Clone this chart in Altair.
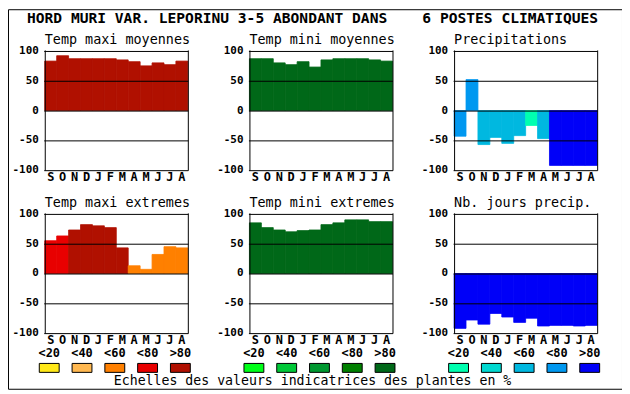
import altair as alt
import pandas as pd

# ---------------- data ----------------
months = ["S", "O", "N", "D", "J", "F", "M", "A", "M", "J", "J", "A"]

tmax_moy = [83, 92, 87, 87, 87, 87, 85, 82, 75, 80, 77, 83]
tmin_moy = [87, 87, 80, 77, 82, 73, 85, 87, 87, 87, 85, 83]
precip = [-43, 52, -57, -45, -55, -42, -25, -47, -92, -92, -92, -92]
tmax_ext = [55, 63, 73, 82, 80, 77, 43, 13, 7, 32, 45, 43]
tmin_ext = [85, 77, 73, 70, 72, 73, 82, 85, 90, 90, 87, 87]
nb_jours = [-92, -78, -85, -67, -73, -82, -75, -88, -87, -87, -88, -87]

cls_tmax_moy = [">80"] * 12
cls_tmin_moy = [">80"] * 12
cls_precip = ["<80", "<80", "<60", "<60", "<60", "<60", "<20", "<60", ">80", ">80", ">80", ">80"]
cls_tmax_ext = ["<80", "<80", ">80", ">80", ">80", ">80", ">80", "<60", "<60", "<60", "<60", "<60"]
cls_tmin_ext = [">80"] * 12
cls_nb_jours = [">80"] * 12

classes = ["<20", "<40", "<60", "<80", ">80"]
warm = ["#FFE818", "#FFB850", "#FF8000", "#E80000", "#B01000"]
green = ["#00FF18", "#00C838", "#009830", "#008000", "#006818"]
blue = ["#00FFB0", "#00D8D0", "#00B8E0", "#0098F0", "#0000F8"]

ticks = [100, 50, 0, -50, -100]

panel_titles = ["Temp maxi moyennes", "Temp mini moyennes", "Precipitations",
                "Temp maxi extremes", "Temp mini extremes", "Nb. jours precip."]
TITLE = "HORD MURI VAR. LEPORINU 3-5 ABONDANT DANS" + "\u00a0" * 4 + "6 POSTES CLIMATIQUES"
FOOT = "Echelles des valeurs indicatrices des plantes en %"

# ---------------- layout ----------------
FONT = "DejaVu Sans Mono"
W, H = 618, 382
col_left = [37, 243, 449]
row_top = [42, 206]
PW, PH = 144, 120


def panel(title, vals, cls, pal, col, row):
    L = col_left[col]
    T = row_top[row]
    xs = alt.Scale(domain=[0, 12], range=[L, L + PW], nice=False, zero=False)
    ys = alt.Scale(domain=[-100, 100], range=[T + PH, T], nice=False, zero=False)
    df = pd.DataFrame({"i": list(range(12)), "m": months, "v": vals,
                       "c": [pal[classes.index(k)] for k in cls]})
    df["i2"] = df["i"] + 1
    df["ic"] = df["i"] + 0.5
    tdf = pd.DataFrame({"t": ticks, "lab": [str(t) for t in ticks]})

    bars = alt.Chart(df).mark_rect(strokeWidth=0.8).encode(
        x=alt.X("i:Q", scale=xs, axis=None),
        x2="i2:Q",
        y=alt.Y("v:Q", scale=ys, axis=None),
        y2=alt.datum(0),
        color=alt.Color("c:N", scale=None),
        stroke=alt.Stroke("c:N", scale=None),
    )
    hr = alt.Chart(tdf).mark_rule(color="black", strokeWidth=1, yOffset=0.5, strokeCap="square").encode(
        y=alt.Y("t:Q", scale=ys, axis=None),
        x=alt.X(datum=0, type="quantitative", scale=xs, axis=None),
        x2=alt.datum(12),
    )
    vr = alt.Chart(pd.DataFrame({"e": [0, 12]})).mark_rule(
        color="black", strokeWidth=1, xOffset=0.5, strokeCap="square").encode(
        x=alt.X("e:Q", scale=xs, axis=None),
        y=alt.Y(datum=-100, type="quantitative", scale=ys, axis=None),
        y2=alt.datum(100),
    )
    ylab = alt.Chart(tdf).mark_text(font=FONT, fontWeight="bold", fontSize=11,
                                    align="right", baseline="middle", dx=-6).encode(
        x=alt.X(datum=0, type="quantitative", scale=xs, axis=None),
        y=alt.Y("t:Q", scale=ys, axis=None),
        text="lab:N",
    )
    xlab = alt.Chart(df).mark_text(font=FONT, fontWeight="bold", fontSize=12,
                                   align="center", baseline="alphabetic", dy=11).encode(
        x=alt.X("ic:Q", scale=xs, axis=None),
        y=alt.Y(datum=-100, type="quantitative", scale=ys, axis=None),
        text="m:N",
    )
    ttl = alt.Chart(pd.DataFrame({"t": [title]})).mark_text(
        font=FONT, fontSize=13.5, align="left", baseline="alphabetic", dy=-7).encode(
        x=alt.X(datum=0, type="quantitative", scale=xs, axis=None),
        y=alt.Y(datum=100, type="quantitative", scale=ys, axis=None),
        text="t:N",
    )
    return alt.layer(bars, hr, vr, ylab, xlab, ttl)


def legend(pal, col):
    gx = col_left[col] + 4.5
    xs = alt.Scale(type="point", domain=classes, range=[gx, gx + 132], padding=0)
    ldf = pd.DataFrame({"k": classes, "c": pal})
    sw = alt.Chart(ldf).mark_point(shape="M-1,-0.45H1V0.45H-1Z", size=400, filled=True,
                                   opacity=1, stroke="black", strokeWidth=1).encode(
        x=alt.X("k:N", scale=xs, axis=None),
        y=alt.value(361),
        color=alt.Color("c:N", scale=None),
    )
    lb = alt.Chart(ldf).mark_text(font=FONT, fontWeight="bold", fontSize=12,
                                  align="center", baseline="alphabetic").encode(
        x=alt.X("k:N", scale=xs, axis=None),
        y=alt.value(350),
        text="k:N",
    )
    return alt.layer(sw, lb)


p1 = panel(panel_titles[0], tmax_moy, cls_tmax_moy, warm, 0, 0)
p2 = panel(panel_titles[1], tmin_moy, cls_tmin_moy, green, 1, 0)
p3 = panel(panel_titles[2], precip, cls_precip, blue, 2, 0)
p4 = panel(panel_titles[3], tmax_ext, cls_tmax_ext, warm, 0, 1)
p5 = panel(panel_titles[4], tmin_ext, cls_tmin_ext, green, 1, 1)
p6 = panel(panel_titles[5], nb_jours, cls_nb_jours, blue, 2, 1)

l1 = legend(warm, 0)
l2 = legend(green, 1)
l3 = legend(blue, 2)

hd = alt.Chart(pd.DataFrame({"t": [TITLE]})).mark_text(
    font=FONT, fontWeight="bold", fontSize=14.7, align="center", baseline="alphabetic").encode(
    x=alt.value(306.5), y=alt.value(14), text="t:N")
ft = alt.Chart(pd.DataFrame({"t": [FOOT]})).mark_text(
    font=FONT, fontSize=13.3, align="center", baseline="alphabetic").encode(
    x=alt.value(306.5), y=alt.value(378.5), text="t:N")

chart = alt.layer(p1, p2, p3, p4, p5, p6, l1, l2, l3, hd, ft).resolve_scale(
    x="independent", y="independent"
).properties(
    width=W, height=H, autosize=alt.AutoSizeParams(type="none"), padding=0,
    background="white",
).configure_view(stroke="black", strokeWidth=1)

chart.save("out.html", embed_options={"renderer": "svg", "actions": False})
